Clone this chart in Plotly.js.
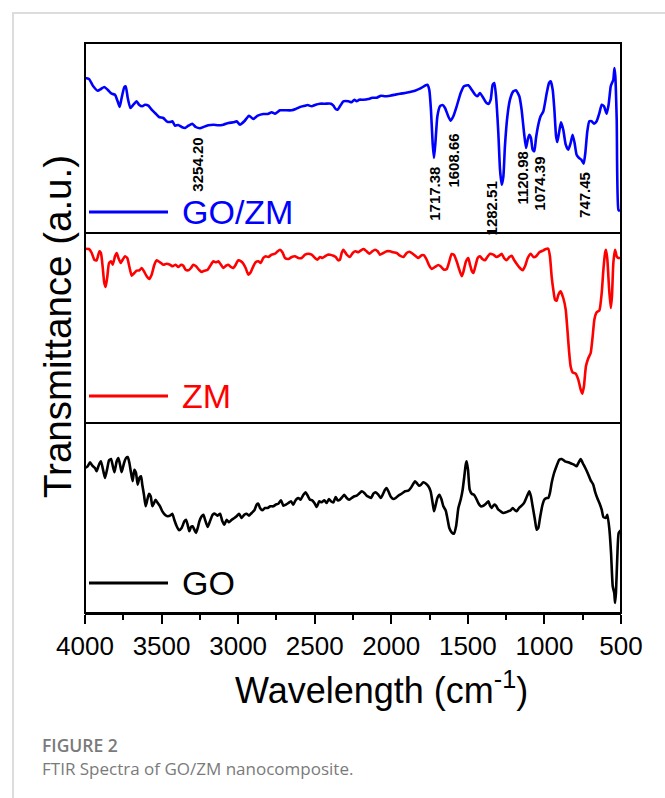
<!DOCTYPE html>
<html>
<head>
<meta charset="utf-8">
<script src="https://cdn.plot.ly/plotly-3.0.1.min.js"></script>
<style>
  html, body { margin: 0; padding: 0; background: #fff; }
  #chart { position: absolute; left: 0; top: 0; width: 665px; height: 798px; }
  #frame { position: absolute; left: 12px; top: 12px; width: 670px; height: 800px;
           border-top: 2px solid #dcdcdc; border-left: 2px solid #dcdcdc; pointer-events: none; }
</style>
</head>
<body>
<div id="chart"></div>
<div id="frame"></div>
<script>
// ---- Data (wavenumber in cm^-1, transmittance in a.u.) ----
const goZmWave = [4000,3974,3946,3917,3896,3874,3852,3826,3804,3787,3774,3761,3743,3734,3721,3704,3684,3663,3647,3626,3608,3586,3565,3543,3517,3489,3467,3445,3430,3412,3391,3369,3347,3325,3299,3277,3249,3227,3195,3162,3129,3097,3064,3031,3010,2988,2960,2929,2901,2872,2836,2807,2781,2759,2727,2694,2650,2624,2596,2563,2546,2520,2494,2466,2433,2394,2378,2363,2350,2335,2313,2280,2259,2241,2226,2209,2183,2150,2124,2095,2067,2041,2008,1976,1943,1910,1878,1845,1813,1780,1765,1752,1741,1730,1721,1712,1699,1682,1665,1649,1628,1612,1595,1573,1547,1525,1497,1475,1453,1438,1421,1403,1382,1366,1351,1338,1327,1316,1301,1290,1279,1268,1258,1242,1225,1203,1186,1164,1149,1133,1120,1109,1099,1088,1077,1066,1055,1040,1025,1007,985,970,959,946,935,924,916,905,892,877,861,844,829,816,803,790,774,759,744,733,720,707,692,676,659,641,626,611,594,581,567,559,550,543,537,528,517,507];
const goZmT = [155,154,146.7,142.3,144,146,143.3,139.3,138.3,131.7,126,135,146,146.7,135,125,128.3,131.7,128.3,126.7,128.3,127.3,123.3,120,116,115,111.7,111,111.7,107.3,108,106,105,107.3,109.3,106,104.7,106,107.7,108.3,107.7,108.3,110,110.7,111.7,108.3,111.7,117.3,114,117.3,119,119,120.7,119.3,122.7,122.7,122.7,124,126,127.3,128,126.7,128.3,129.3,129.3,129.3,127.3,124,123.3,126.7,131.7,131.7,130.7,133.3,131.7,133.3,133.3,134,135.3,135.3,137.3,136.7,137.3,138.3,139.3,140,141,142.3,144.3,147.3,148.3,143.3,123.3,90,75,90,116.7,126.7,128,125,116.7,112.3,116.7,126.7,140,146.7,147.7,143.3,138.3,136.7,140,136,130.7,129,133.3,148.3,150,136.7,100,63.3,48.3,56.7,86.7,116.7,133.3,141.7,142.7,136.7,123.3,100,85,93.3,98.3,95,83.3,81.7,95,108.3,116.7,121.7,140,150,151.7,143.3,123.3,96.7,91,100,110.7,103.3,88.3,83.3,90,98.3,90,78.3,75,73.3,69.3,80,101.7,111.7,111.7,109.3,111.7,120,128.3,126.7,119.3,128.3,146.7,150,153.3,165,156.7,113.3,23.3,21.7];

const zmWave = [4000,3974,3956,3939,3924,3906,3896,3885,3874,3865,3854,3843,3830,3819,3804,3793,3782,3767,3754,3739,3724,3711,3695,3678,3663,3645,3630,3615,3597,3580,3565,3547,3532,3510,3489,3467,3445,3428,3408,3391,3373,3358,3343,3325,3308,3293,3275,3256,3238,3221,3199,3184,3162,3145,3129,3112,3097,3079,3064,3047,3031,3016,2999,2981,2966,2951,2933,2918,2901,2886,2868,2853,2836,2820,2803,2781,2759,2742,2727,2711,2694,2672,2650,2629,2607,2585,2563,2542,2520,2498,2483,2465,2450,2433,2415,2400,2378,2363,2346,2335,2324,2313,2291,2270,2252,2233,2215,2198,2180,2161,2143,2124,2106,2089,2074,2052,2030,2008,1987,1965,1943,1921,1900,1882,1860,1839,1823,1802,1786,1769,1752,1736,1715,1693,1678,1656,1638,1621,1606,1591,1573,1556,1540,1530,1512,1497,1486,1473,1464,1451,1436,1421,1405,1388,1373,1355,1334,1312,1295,1279,1264,1247,1229,1214,1197,1177,1160,1142,1127,1109,1090,1072,1055,1033,1007,990,975,964,953,942,931,920,909,894,877,861,850,840,829,816,796,779,763,753,742,729,713,698,685,674,659,641,626,615,604,598,589,578,567,559,550,539,528,517,502];
const zmT = [174.3,174,170,163.3,162.7,171.7,170,156.7,140,136,146.7,160,161.7,158.3,166.7,170,165,160,163.3,166.7,165,156.7,147.3,150,152.3,152.7,155,151.7,146.7,144,148.3,158.3,162.7,160.7,158.3,159.3,158.3,156.7,158.3,156,158.3,157.3,153.3,152.7,155,158.3,156.7,153.3,151,152.3,153.3,156.7,161.7,160.7,161.7,158.3,155,157.3,158.3,156,155,158.3,162.7,161.7,159.3,155,148.3,150.7,156.7,160.7,161.7,160,165,166.7,166,168.3,169.3,171.7,173.3,170.7,165,164,166,166.7,165,165,168.3,169.3,168.3,165,163.3,166,165,166.7,168.3,168.3,167.3,166,162.7,163.3,170,173.3,168.3,166,170,171.7,170.7,172.7,174,171.7,169.3,171.7,173.3,171.7,168.3,170,171.7,171.7,170.7,170,167.3,166,170,171.3,169.3,166.7,165,167.7,167.7,163.3,157.3,154,156,158,156.7,153.3,154,161.7,169,168.3,161.7,153.3,146.7,150.7,161.7,165,158.3,151.7,150,156.7,165,166.7,164,162.7,166,169.3,168.3,166,167.3,169.3,165,162.7,166,167.3,162.7,158.3,155,152.7,156.7,165,169.3,166,166.7,170.7,172.7,174,174.3,166.7,146.7,133.3,123.3,122.3,128.3,131.7,125,113.3,93.3,73.3,56.7,50.7,49.3,43.3,33.3,29.3,36.7,56.7,65,70,86.7,103.3,110.7,112.7,130,153.3,170,173.3,163.3,135,115,126.7,160,173.3,166.7,165,165];

const goWave = [4000,3983,3967,3952,3935,3924,3909,3896,3880,3869,3854,3843,3830,3819,3808,3793,3782,3771,3761,3745,3732,3721,3711,3700,3689,3678,3667,3656,3645,3634,3626,3615,3604,3593,3582,3571,3560,3549,3539,3525,3510,3495,3478,3460,3445,3430,3417,3401,3386,3369,3351,3340,3330,3319,3308,3297,3286,3275,3264,3253,3238,3227,3216,3199,3184,3166,3151,3136,3118,3103,3090,3075,3060,3042,3025,3010,2994,2977,2960,2944,2929,2912,2894,2879,2868,2857,2842,2825,2807,2790,2770,2755,2738,2720,2705,2688,2672,2655,2640,2629,2618,2607,2592,2574,2559,2546,2531,2516,2502,2487,2470,2455,2437,2422,2407,2394,2378,2363,2350,2335,2320,2307,2291,2276,2259,2241,2226,2211,2193,2176,2161,2146,2132,2117,2102,2085,2069,2056,2041,2030,2019,2002,1987,1971,1954,1943,1926,1910,1889,1873,1860,1845,1834,1819,1806,1791,1773,1758,1743,1730,1721,1712,1699,1686,1673,1660,1645,1634,1621,1606,1591,1577,1562,1547,1534,1523,1514,1508,1499,1488,1475,1460,1447,1432,1416,1399,1382,1366,1355,1345,1329,1316,1301,1286,1268,1251,1236,1220,1207,1192,1181,1166,1149,1131,1116,1099,1088,1077,1062,1051,1040,1029,1014,1001,985,975,964,953,937,920,903,887,866,844,822,807,790,776,763,750,733,713,698,681,670,655,641,626,615,600,589,576,565,554,544,539,533,524,515,502];
const goT = [145,146.7,150.7,147.3,145,141.7,148.3,151.7,141.7,135,145,152.7,154,147.3,140.7,151.7,155,148.3,140.7,150,155,156,150.7,140.7,131.7,143.3,140,128.3,135,136.7,128.3,118.3,106.7,113.3,119.3,116.7,106.7,110,113.3,110,106.7,101.7,98.3,96.7,97.3,99.3,93.3,86.7,82.7,85,91.7,93.3,88.3,81.7,86,86.7,83.3,80,85,91.7,96.7,98.3,93.3,86,91.7,98.3,99.3,97.3,99.3,91.7,88.3,93.3,90.7,93.3,95,96.7,99.3,95,98.3,99.3,97.3,100,102.7,108.3,109.3,105,102.7,105,105,106.7,106.7,108.3,109.3,112.7,107.3,108.3,110,111.7,108.3,111.7,114,115,113.3,118.3,120.7,117.3,113.3,112.7,110,106,111.7,110.7,112.7,110,114,111.7,110.7,116,112.7,113.3,116,118.3,115,113.3,115,116.7,117.3,119.3,121.7,120,117.3,116,115,119.3,120.7,118.3,115,118.3,123.3,125,121.7,116,114,115,117.3,118.3,120,121.7,122.3,125,128.3,131.7,130,127.3,128.3,130.7,129.3,126.7,121.7,110,101.7,106.7,115,118.3,114,106.7,102.7,95,85,80.7,79.3,86.7,105,113.3,123.3,136.7,148.3,151.7,143.3,123.3,119.3,118.3,115,110,106.7,107.3,109.3,111.7,107.3,105,108.3,107.3,103.3,101.7,100,100.7,101.7,102.7,105,102.7,101.7,105,107.3,110.7,116,121.7,116.7,106.7,93.3,83.3,85,95,107.3,113.3,115,115,120,130,140,147.3,153.3,154,151.7,150.7,149.3,148.3,146.7,150.7,154,150,145,138.3,132.7,128.3,121.7,115,110,103.3,96,95,98.3,84,60,26.7,20,10,20,56.7,80,82.7];

const seriesNames = ['GO/ZM', 'ZM', 'GO'];
const seriesColors = ['#0000ff', '#ff0000', '#000000'];
const tickValues = [4000, 3500, 3000, 2500, 2000, 1500, 1000, 500];
const peakLabels = ['3254.20', '1717.38', '1608.66', '1282.51', '1120.98', '1074.39', '747.45'];

const SANS = "'Liberation Sans', Arial, Helvetica, sans-serif";
const CAPTION = "'Open Sans', 'Noto Sans', sans-serif";

// ---- Traces ----
const lineStyle = (c) => ({ color: c, width: 2.6, shape: 'spline', smoothing: 0.5 });
const traces = [
  { x: goZmWave, y: goZmT, xaxis: 'x', yaxis: 'y3', mode: 'lines', line: lineStyle(seriesColors[0]), name: seriesNames[0], hoverinfo: 'x+y' },
  { x: zmWave, y: zmT, xaxis: 'x', yaxis: 'y2', mode: 'lines', line: lineStyle(seriesColors[1]), name: seriesNames[1], hoverinfo: 'x+y' },
  { x: goWave, y: goT, xaxis: 'x', yaxis: 'y', mode: 'lines', line: lineStyle(seriesColors[2]), name: seriesNames[2], hoverinfo: 'x+y' }
];

// ---- Layout helpers ----
const hiddenY = (dom) => ({
  domain: dom, range: [0, 190], showline: false, showgrid: false, zeroline: false,
  showticklabels: false, ticks: '', fixedrange: true
});

// peak label placement (x centre in cm^-1, top of text in panel units)
const peakPos = [
  [3271, 97], [1714, 68.3], [1595, 101.7], [1344, 53.3], [1144, 83.3], [1029, 78.3], [740, 63.3]
];
const annotations = peakLabels.map((t, i) => ({
  text: t, x: peakPos[i][0], y: peakPos[i][1], xref: 'x', yref: 'y3',
  textangle: -90, showarrow: false, xanchor: 'center', yanchor: 'top',
  font: { family: SANS, size: 15, color: '#000', weight: 'bold' }
}));

// legends (line sample + label) per panel
const legendPix = [212, 396, 583];
const shapes = [];
seriesNames.forEach((nm, i) => {
  const yp = (613 - legendPix[i]) / 570;
  shapes.push({ type: 'line', xref: 'paper', yref: 'paper', x0: 4 / 536, x1: 83 / 536, y0: yp, y1: yp,
    line: { color: seriesColors[i], width: 3 } });
  annotations.push({ text: nm, xref: 'paper', yref: 'paper', x: 95 / 536, y: yp, xanchor: 'left', yanchor: 'middle',
    showarrow: false, font: { family: SANS, size: 34, color: seriesColors[i] } });
});

// frame and panel separators
shapes.push({ type: 'rect', xref: 'paper', yref: 'paper', x0: 0, x1: 1, y0: 0, y1: 1, line: { color: '#000', width: 2 } });
shapes.push({ type: 'line', xref: 'paper', yref: 'paper', x0: 0, x1: 1, y0: 1 / 3, y1: 1 / 3, line: { color: '#000', width: 2 } });
shapes.push({ type: 'line', xref: 'paper', yref: 'paper', x0: 0, x1: 1, y0: 2 / 3, y1: 2 / 3, line: { color: '#000', width: 2 } });

// axis titles
annotations.push({ text: 'Transmittance (a.u.)', xref: 'paper', yref: 'paper', x: (57 - 85) / 536, y: (613 - 327) / 570,
  textangle: -90, showarrow: false, xanchor: 'center', yanchor: 'middle',
  font: { family: SANS, size: 38.5, color: '#000' } });
annotations.push({ text: 'Wavelength (cm<sup>-1</sup>)', xref: 'paper', yref: 'paper', x: (381 - 85) / 536, y: (613 - 688) / 570,
  showarrow: false, xanchor: 'center', yanchor: 'middle',
  font: { family: SANS, size: 36, color: '#000' } });

// caption
annotations.push({ text: 'FIGURE 2', xref: 'paper', yref: 'paper', x: (40 - 85) / 536, y: (613 - 745) / 570,
  showarrow: false, xanchor: 'left', yanchor: 'middle',
  font: { family: CAPTION, size: 17.5, color: '#7a7a7a', weight: 600 } });
annotations.push({ text: 'FTIR Spectra of GO/ZM nanocomposite.', xref: 'paper', yref: 'paper', x: (40 - 85) / 536, y: (613 - 768) / 570,
  showarrow: false, xanchor: 'left', yanchor: 'middle',
  font: { family: CAPTION, size: 17, color: '#7a7a7a' } });

const layout = {
  width: 665, height: 798,
  margin: { l: 85, r: 44, t: 43, b: 185 },
  paper_bgcolor: 'rgba(0,0,0,0)', plot_bgcolor: 'rgba(0,0,0,0)',
  showlegend: false,
  xaxis: {
    range: [4000, 500], anchor: 'y', domain: [0, 1],
    tickvals: tickValues, ticktext: tickValues.map(String),
    ticks: 'outside', ticklen: 9, tickwidth: 2, tickcolor: '#000',
    minor: { ticks: 'outside', ticklen: 5, tickwidth: 2, tickcolor: '#000', dtick: 250, tick0: 250 },
    showline: true, linecolor: '#000', linewidth: 2, showgrid: false, zeroline: false,
    tickfont: { family: SANS, size: 26, color: '#000' },
    fixedrange: true
  },
  yaxis: hiddenY([0, 1 / 3]),
  yaxis2: hiddenY([1 / 3, 2 / 3]),
  yaxis3: hiddenY([2 / 3, 1]),
  shapes: shapes,
  annotations: annotations,
  font: { family: SANS }
};

Plotly.newPlot('chart', traces, layout, { displayModeBar: false, staticPlot: true });
</script>
</body>
</html>
